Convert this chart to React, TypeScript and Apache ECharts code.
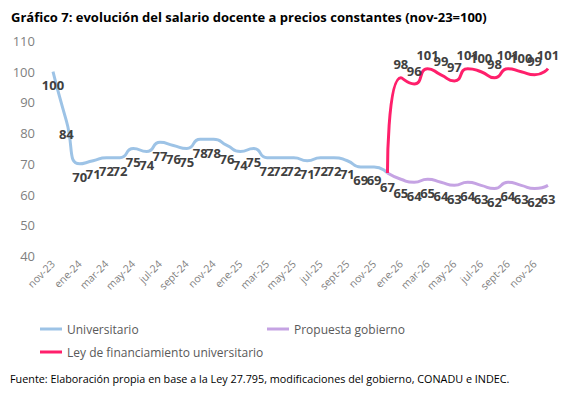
import React, { useEffect, useRef } from "react";
import * as echarts from "echarts";

const months = [
  "nov-23", "dic-23", "ene-24", "feb-24", "mar-24", "abr-24", "may-24", "jun-24", "jul-24", "ago-24", "sept-24", "oct-24",
  "nov-24", "dic-24", "ene-25", "feb-25", "mar-25", "abr-25", "may-25", "jun-25", "jul-25", "ago-25", "sept-25", "oct-25",
  "nov-25", "dic-25", "ene-26", "feb-26", "mar-26", "abr-26", "may-26", "jun-26", "jul-26", "ago-26", "sept-26", "oct-26",
  "nov-26", "dic-26",
];
const universitario = [100, 84, 70, 71, 72, 72, 75, 74, 77, 76, 75, 78, 78, 76, 74, 75, 72, 72, 72, 71, 72, 72, 71, 69, 69, 67];
const propuestaGobierno = [67, 65, 64, 65, 64, 63, 64, 63, 62, 64, 63, 62, 63];
const leyFinanciamiento = [67, 98, 96, 101, 99, 97, 101, 100, 98, 101, 100, 99, 101];
const projectionStart = 25;
const yTicks = { min: 40, max: 110, interval: 10 };

const FONT = "'Open Sans', 'Noto Sans', sans-serif";

function pad(values: number[], start: number, hideFirstLabel: boolean) {
  const out: any[] = [];
  for (let i = 0; i < months.length; i++) {
    const j = i - start;
    if (j >= 0 && j < values.length) {
      if (j === 0 && hideFirstLabel) out.push({ value: values[j], label: { show: false } });
      else out.push(values[j]);
    } else out.push(null);
  }
  return out;
}

export default function App() {
  const ref = useRef<HTMLDivElement>(null);
  useEffect(() => {
    if (!ref.current) return;
    const chart = echarts.init(ref.current, undefined, { renderer: "svg" });
    const labelStyle = {
      show: true,
      fontFamily: FONT,
      fontWeight: "bold" as const,
      fontSize: 13,
      color: "#404040",
      distance: 7,
    };
    const legendCommon = {
      icon: "rect",
      itemWidth: 22,
      itemHeight: 3,
      itemGap: 0,
      textStyle: { fontFamily: FONT, fontSize: 12, color: "#595959" },
    };
    const lineCommon = {
      type: "line",
      smooth: 0.6,
      showSymbol: true,
      symbol: "circle",
      symbolSize: 0,
      connectNulls: false,
    };
    chart.setOption({
      animation: false,
      title: [
        {
          text: "Gráfico 7: evolución del salario docente a precios constantes (nov-23=100)",
          left: 6,
          top: 5,
          textStyle: { fontFamily: FONT, fontSize: 13, fontWeight: "bold", color: "#000" },
        },
        {
          text: "Fuente: Elaboración propia en base a la Ley 27.795, modificaciones del gobierno, CONADU e INDEC.",
          left: 5,
          top: 368,
          textStyle: { fontFamily: FONT, fontSize: 10.8, fontWeight: "normal", color: "#000" },
        },
      ],
      legend: [
        { ...legendCommon, data: ["Universitario"], left: 35, top: 318 },
        { ...legendCommon, data: ["Propuesta gobierno"], left: 262, top: 318 },
        { ...legendCommon, data: ["Ley de financiamiento universitario"], left: 35, top: 341 },
      ],
      grid: { left: 53, right: 31, top: 41, bottom: 140, containLabel: false },
      xAxis: {
        type: "category",
        data: months,
        boundaryGap: false,
        axisLine: { show: false },
        axisTick: { show: false },
        axisLabel: {
          interval: 1,
          rotate: 45,
          margin: 6,
          fontFamily: FONT,
          fontSize: 10.5,
          color: "#7f7f7f",
        },
      },
      yAxis: {
        type: "value",
        min: yTicks.min,
        max: yTicks.max,
        interval: yTicks.interval,
        splitLine: { show: false },
        axisLine: { show: false },
        axisTick: { show: false },
        axisLabel: { margin: 18, fontFamily: FONT, fontSize: 13, color: "#7f7f7f" },
      },
      series: [
        {
          ...lineCommon,
          name: "Universitario",
          data: pad(universitario, 0, false),
          lineStyle: { width: 3, color: "#9DC3E6" },
          itemStyle: { color: "#9DC3E6" },
          label: { ...labelStyle, position: "bottom" },
          z: 2,
        },
        {
          ...lineCommon,
          name: "Propuesta gobierno",
          data: pad(propuestaGobierno, projectionStart, true),
          lineStyle: { width: 3, color: "#C5A3E3" },
          itemStyle: { color: "#C5A3E3" },
          label: { ...labelStyle, position: "bottom" },
          z: 3,
        },
        {
          ...lineCommon,
          name: "Ley de financiamiento universitario",
          data: pad(leyFinanciamiento, projectionStart, true),
          lineStyle: { width: 3, color: "#FF1F6B" },
          itemStyle: { color: "#FF1F6B" },
          label: { ...labelStyle, position: "top" },
          z: 4,
        },
      ],
    });
    return () => chart.dispose();
  }, []);
  return (
    <div
      ref={ref}
      style={{ position: "absolute", left: 0, top: 0, width: 579, height: 396, background: "#fff" }}
    />
  );
}
